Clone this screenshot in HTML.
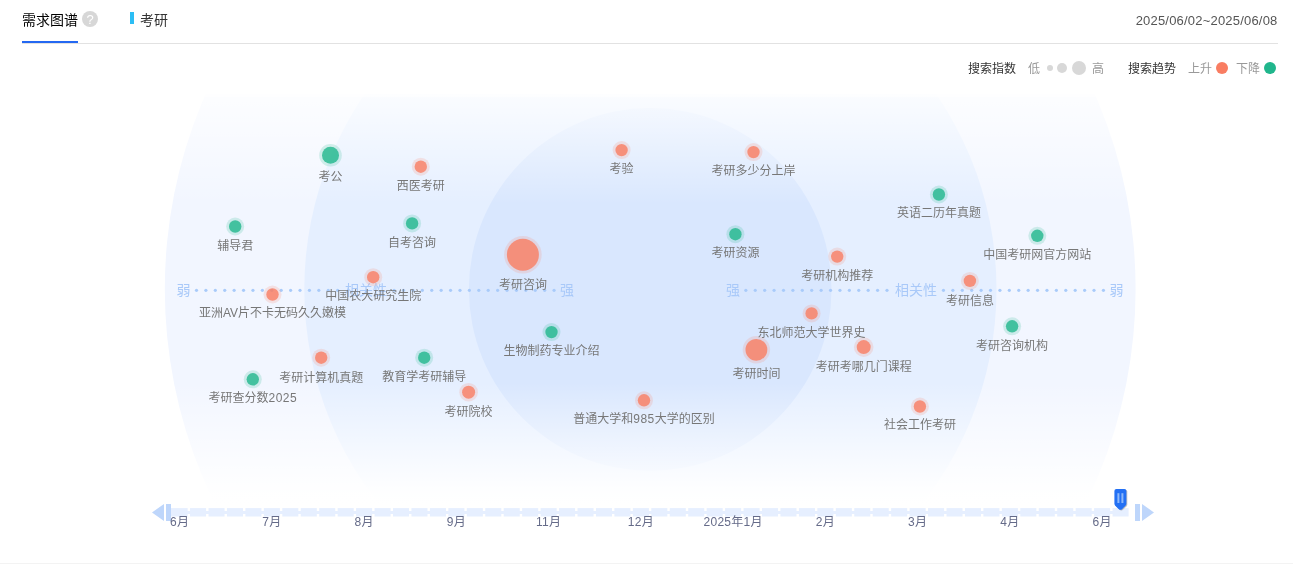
<!DOCTYPE html>
<html lang="zh-CN">
<head>
<meta charset="utf-8">
<title>需求图谱</title>
<style>
*{box-sizing:border-box;margin:0;padding:0}
html,body{width:1293px;height:564px;background:#fff;overflow:hidden}
body{position:relative;font-family:"Liberation Sans","Noto Sans CJK SC",sans-serif;color:#333}
.hd{position:absolute;left:22px;top:0;width:1256px;height:44px;border-bottom:1px solid #e2e2e2}
.tab{position:absolute;left:0;top:0;height:44px;line-height:41px;font-size:14px;color:#000;white-space:nowrap}
.tab i{position:absolute;left:0;top:41px;width:56px;height:2px;background:#2468f2}
.q{position:absolute;left:60px;top:11px;width:16px;height:16px;border-radius:50%;background:#d7d7d7;color:#fff;font-size:13px;line-height:17px;text-align:center}
.kw{position:absolute;left:108px;top:12px;height:12px;width:4px;background:#2cbef5}
.kwt{position:absolute;left:118px;top:0;line-height:41px;font-size:14px;color:#333;white-space:nowrap}
.date{position:absolute;right:0.5px;top:0;line-height:41px;font-size:13px;color:#555;white-space:nowrap;letter-spacing:0.195px}
.lg{position:absolute;top:59px;height:20px;line-height:20px;font-size:12px;white-space:nowrap}
.lg.d{color:#333}
.lg.g{color:#999}
.dot{position:absolute;border-radius:50%}
.ft{position:absolute;left:0;top:563px;width:1293px;height:1px;background:#f3f3f3}
svg{position:absolute;left:0;top:0}
svg text{font-family:"Liberation Sans","Noto Sans CJK SC",sans-serif}
.bl{font-size:12px;fill:#777;text-anchor:middle;dominant-baseline:central}
.ax{font-size:14px;fill:#a9c9f9;text-anchor:middle;dominant-baseline:central}
.tl{font-size:12px;letter-spacing:0.25px;fill:#656b89;text-anchor:middle;dominant-baseline:central}
</style>
</head>
<body>
<div class="hd">
  <div class="tab">需求图谱<i></i></div>
  <div class="q">?</div>
  <div class="kw"></div>
  <div class="kwt">考研</div>
  <div class="date">2025/06/02~2025/06/08</div>
</div>
<div class="lg d" style="left:968px">搜索指数</div>
<div class="lg g" style="left:1028px">低</div>
<div class="dot" style="left:1047px;top:65px;width:6px;height:6px;background:#d8d8d8"></div>
<div class="dot" style="left:1057px;top:63px;width:10px;height:10px;background:#d8d8d8"></div>
<div class="dot" style="left:1072px;top:61px;width:14px;height:14px;background:#d8d8d8"></div>
<div class="lg g" style="left:1092px">高</div>
<div class="lg d" style="left:1128px">搜索趋势</div>
<div class="lg g" style="left:1188px">上升</div>
<div class="dot" style="left:1216px;top:62px;width:12px;height:12px;background:#f97d62"></div>
<div class="lg g" style="left:1236px">下降</div>
<div class="dot" style="left:1264px;top:62px;width:12px;height:12px;background:#20b68c"></div>

<svg width="1293" height="564" viewBox="0 0 1293 564">
  <defs>
    <filter id="bl" x="-30%" y="-30%" width="160%" height="160%"><feGaussianBlur stdDeviation="0.7"/></filter>
    <clipPath id="cp"><rect x="0" y="94" width="1293" height="411"/></clipPath>
    <linearGradient id="fade" x1="0" y1="94" x2="0" y2="505" gradientUnits="userSpaceOnUse">
      <stop offset="0" stop-color="#fff" stop-opacity="0.93"/>
      <stop offset="0.0063" stop-color="#fff" stop-opacity="0.92"/>
      <stop offset="0.0078" stop-color="#fff" stop-opacity="0.8"/>
      <stop offset="0.2676" stop-color="#fff" stop-opacity="0"/>
      <stop offset="0.7022" stop-color="#fff" stop-opacity="0"/>
      <stop offset="0.9703" stop-color="#fff" stop-opacity="0.97"/>
      <stop offset="1" stop-color="#fff" stop-opacity="1"/>
    </linearGradient>
  </defs>
  <g clip-path="url(#cp)">
    <circle cx="650.2" cy="289" r="485.4" fill="#f2f6ff"/>
    <circle cx="650.4" cy="289.3" r="346.1" fill="#e5efff"/>
    <circle cx="650.2" cy="289.4" r="181.3" fill="#d9e7fe"/>
    <rect x="0" y="93" width="1293" height="413" fill="url(#fade)"/>
  </g>
  <g fill="#a9cbfa">
    <circle cx="196.5" cy="290.3" r="1.6"/><circle cx="205.91" cy="290.3" r="1.6"/><circle cx="215.32" cy="290.3" r="1.6"/><circle cx="224.73" cy="290.3" r="1.6"/><circle cx="234.14" cy="290.3" r="1.6"/><circle cx="243.55" cy="290.3" r="1.6"/><circle cx="252.96" cy="290.3" r="1.6"/><circle cx="262.37" cy="290.3" r="1.6"/><circle cx="271.78" cy="290.3" r="1.6"/><circle cx="281.19" cy="290.3" r="1.6"/><circle cx="290.6" cy="290.3" r="1.6"/><circle cx="300.01" cy="290.3" r="1.6"/><circle cx="309.42" cy="290.3" r="1.6"/><circle cx="318.83" cy="290.3" r="1.6"/><circle cx="328.24" cy="290.3" r="1.6"/><circle cx="337.65" cy="290.3" r="1.6"/><circle cx="394.11" cy="290.3" r="1.6"/><circle cx="403.52" cy="290.3" r="1.6"/><circle cx="412.93" cy="290.3" r="1.6"/><circle cx="422.34" cy="290.3" r="1.6"/><circle cx="431.75" cy="290.3" r="1.6"/><circle cx="441.16" cy="290.3" r="1.6"/><circle cx="450.57" cy="290.3" r="1.6"/><circle cx="459.98" cy="290.3" r="1.6"/><circle cx="469.39" cy="290.3" r="1.6"/><circle cx="478.8" cy="290.3" r="1.6"/><circle cx="488.21" cy="290.3" r="1.6"/><circle cx="497.62" cy="290.3" r="1.6"/><circle cx="507.03" cy="290.3" r="1.6"/><circle cx="516.44" cy="290.3" r="1.6"/><circle cx="525.85" cy="290.3" r="1.6"/><circle cx="535.26" cy="290.3" r="1.6"/><circle cx="544.67" cy="290.3" r="1.6"/><circle cx="554.08" cy="290.3" r="1.6"/><circle cx="745.85" cy="290.3" r="1.6"/><circle cx="755.26" cy="290.3" r="1.6"/><circle cx="764.67" cy="290.3" r="1.6"/><circle cx="774.08" cy="290.3" r="1.6"/><circle cx="783.49" cy="290.3" r="1.6"/><circle cx="792.9" cy="290.3" r="1.6"/><circle cx="802.31" cy="290.3" r="1.6"/><circle cx="811.72" cy="290.3" r="1.6"/><circle cx="821.13" cy="290.3" r="1.6"/><circle cx="830.54" cy="290.3" r="1.6"/><circle cx="839.95" cy="290.3" r="1.6"/><circle cx="849.36" cy="290.3" r="1.6"/><circle cx="858.77" cy="290.3" r="1.6"/><circle cx="868.18" cy="290.3" r="1.6"/><circle cx="877.59" cy="290.3" r="1.6"/><circle cx="887" cy="290.3" r="1.6"/><circle cx="943.46" cy="290.3" r="1.6"/><circle cx="952.87" cy="290.3" r="1.6"/><circle cx="962.28" cy="290.3" r="1.6"/><circle cx="971.69" cy="290.3" r="1.6"/><circle cx="981.1" cy="290.3" r="1.6"/><circle cx="990.51" cy="290.3" r="1.6"/><circle cx="999.92" cy="290.3" r="1.6"/><circle cx="1009.33" cy="290.3" r="1.6"/><circle cx="1018.74" cy="290.3" r="1.6"/><circle cx="1028.15" cy="290.3" r="1.6"/><circle cx="1037.56" cy="290.3" r="1.6"/><circle cx="1046.97" cy="290.3" r="1.6"/><circle cx="1056.38" cy="290.3" r="1.6"/><circle cx="1065.79" cy="290.3" r="1.6"/><circle cx="1075.2" cy="290.3" r="1.6"/><circle cx="1084.61" cy="290.3" r="1.6"/><circle cx="1094.02" cy="290.3" r="1.6"/><circle cx="1103.43" cy="290.3" r="1.6"/>
  </g>
  <text class="ax" x="183.5" y="290.3">弱</text>
  <text class="ax" x="366" y="290.3">相关性</text>
  <text class="ax" x="567" y="290.3">强</text>
  <text class="ax" x="733" y="290.3">强</text>
  <text class="ax" x="916" y="290.3">相关性</text>
  <text class="ax" x="1116.5" y="290.3">弱</text>
  <circle cx="330.5" cy="155.3" r="11.3" fill="#20b68c" fill-opacity="0.18"/>
  <circle cx="330.5" cy="155.3" r="8.5" fill="#20b68c" fill-opacity="0.8"/>
  <circle cx="420.8" cy="166.7" r="9" fill="#f97d62" fill-opacity="0.18"/>
  <circle cx="420.8" cy="166.7" r="6.2" fill="#f97d62" fill-opacity="0.8"/>
  <circle cx="235.2" cy="226.5" r="9" fill="#20b68c" fill-opacity="0.18"/>
  <circle cx="235.2" cy="226.5" r="6.2" fill="#20b68c" fill-opacity="0.8"/>
  <circle cx="412.1" cy="223.4" r="9" fill="#20b68c" fill-opacity="0.18"/>
  <circle cx="412.1" cy="223.4" r="6.2" fill="#20b68c" fill-opacity="0.8"/>
  <circle cx="522.9" cy="254.8" r="18.8" fill="#f97d62" fill-opacity="0.18"/>
  <circle cx="522.9" cy="254.8" r="16" fill="#f97d62" fill-opacity="0.8"/>
  <circle cx="373.2" cy="277.2" r="9" fill="#f97d62" fill-opacity="0.18"/>
  <circle cx="373.2" cy="277.2" r="6.2" fill="#f97d62" fill-opacity="0.8"/>
  <circle cx="272.5" cy="294.5" r="9" fill="#f97d62" fill-opacity="0.18"/>
  <circle cx="272.5" cy="294.5" r="6.2" fill="#f97d62" fill-opacity="0.8"/>
  <circle cx="321.2" cy="357.7" r="9" fill="#f97d62" fill-opacity="0.18"/>
  <circle cx="321.2" cy="357.7" r="6.2" fill="#f97d62" fill-opacity="0.8"/>
  <circle cx="252.8" cy="379.3" r="9" fill="#20b68c" fill-opacity="0.18"/>
  <circle cx="252.8" cy="379.3" r="6.2" fill="#20b68c" fill-opacity="0.8"/>
  <circle cx="424.2" cy="357.7" r="9" fill="#20b68c" fill-opacity="0.18"/>
  <circle cx="424.2" cy="357.7" r="6.2" fill="#20b68c" fill-opacity="0.8"/>
  <circle cx="468.6" cy="392.2" r="9.3" fill="#f97d62" fill-opacity="0.18"/>
  <circle cx="468.6" cy="392.2" r="6.5" fill="#f97d62" fill-opacity="0.8"/>
  <circle cx="551.5" cy="332.1" r="9" fill="#20b68c" fill-opacity="0.18"/>
  <circle cx="551.5" cy="332.1" r="6.2" fill="#20b68c" fill-opacity="0.8"/>
  <circle cx="621.6" cy="150.1" r="9" fill="#f97d62" fill-opacity="0.18"/>
  <circle cx="621.6" cy="150.1" r="6.2" fill="#f97d62" fill-opacity="0.8"/>
  <circle cx="753.5" cy="152.1" r="9" fill="#f97d62" fill-opacity="0.18"/>
  <circle cx="753.5" cy="152.1" r="6.2" fill="#f97d62" fill-opacity="0.8"/>
  <circle cx="735.4" cy="234.2" r="9" fill="#20b68c" fill-opacity="0.18"/>
  <circle cx="735.4" cy="234.2" r="6.2" fill="#20b68c" fill-opacity="0.8"/>
  <circle cx="837.2" cy="256.6" r="9" fill="#f97d62" fill-opacity="0.18"/>
  <circle cx="837.2" cy="256.6" r="6.2" fill="#f97d62" fill-opacity="0.8"/>
  <circle cx="938.9" cy="194.5" r="9" fill="#20b68c" fill-opacity="0.18"/>
  <circle cx="938.9" cy="194.5" r="6.2" fill="#20b68c" fill-opacity="0.8"/>
  <circle cx="1037.3" cy="235.8" r="9" fill="#20b68c" fill-opacity="0.18"/>
  <circle cx="1037.3" cy="235.8" r="6.2" fill="#20b68c" fill-opacity="0.8"/>
  <circle cx="969.9" cy="280.9" r="9" fill="#f97d62" fill-opacity="0.18"/>
  <circle cx="969.9" cy="280.9" r="6.2" fill="#f97d62" fill-opacity="0.8"/>
  <circle cx="1012.1" cy="326.3" r="9" fill="#20b68c" fill-opacity="0.18"/>
  <circle cx="1012.1" cy="326.3" r="6.2" fill="#20b68c" fill-opacity="0.8"/>
  <circle cx="811.6" cy="313.4" r="9" fill="#f97d62" fill-opacity="0.18"/>
  <circle cx="811.6" cy="313.4" r="6.2" fill="#f97d62" fill-opacity="0.8"/>
  <circle cx="756.4" cy="349.8" r="13.7" fill="#f97d62" fill-opacity="0.18"/>
  <circle cx="756.4" cy="349.8" r="10.9" fill="#f97d62" fill-opacity="0.8"/>
  <circle cx="863.7" cy="347.1" r="9.8" fill="#f97d62" fill-opacity="0.18"/>
  <circle cx="863.7" cy="347.1" r="7" fill="#f97d62" fill-opacity="0.8"/>
  <circle cx="919.9" cy="406.5" r="9" fill="#f97d62" fill-opacity="0.18"/>
  <circle cx="919.9" cy="406.5" r="6.2" fill="#f97d62" fill-opacity="0.8"/>
  <circle cx="644" cy="400.3" r="9" fill="#f97d62" fill-opacity="0.18"/>
  <circle cx="644" cy="400.3" r="6.2" fill="#f97d62" fill-opacity="0.8"/>
  <text class="bl" x="330.5" y="177.1">考公</text>
  <text class="bl" x="420.8" y="186.3">西医考研</text>
  <text class="bl" x="235.2" y="246.1">辅导君</text>
  <text class="bl" x="412.1" y="243.1">自考咨询</text>
  <text class="bl" x="522.9" y="284.5">考研咨询</text>
  <text class="bl" x="373.2" y="296.3">中国农大研究生院</text>
  <text class="bl" x="272.5" y="313.1">亚洲AV片不卡无码久久嫩模</text>
  <text class="bl" x="321.2" y="377.5">考研计算机真题</text>
  <text class="bl" x="252.8" y="398.2">考研查分数<tspan letter-spacing="0.5">2025</tspan></text>
  <text class="bl" x="424.2" y="377.1">教育学考研辅导</text>
  <text class="bl" x="468.6" y="412.3">考研院校</text>
  <text class="bl" x="551.5" y="350.9">生物制药专业介绍</text>
  <text class="bl" x="621.6" y="169.2">考验</text>
  <text class="bl" x="753.5" y="171.4">考研多少分上岸</text>
  <text class="bl" x="735.4" y="253.3">考研资源</text>
  <text class="bl" x="837.2" y="276.4">考研机构推荐</text>
  <text class="bl" x="938.9" y="213.1">英语二历年真题</text>
  <text class="bl" x="1037.3" y="255">中国考研网官方网站</text>
  <text class="bl" x="969.9" y="300.5">考研信息</text>
  <text class="bl" x="1012.1" y="346.4">考研咨询机构</text>
  <text class="bl" x="811.6" y="333">东北师范大学世界史</text>
  <text class="bl" x="756.4" y="373.8">考研时间</text>
  <text class="bl" x="863.7" y="367">考研考哪几门课程</text>
  <text class="bl" x="919.9" y="425.1">社会工作考研</text>
  <text class="bl" x="644" y="419.2">普通大学和<tspan letter-spacing="0.5">985</tspan>大学的区别</text>
  <rect x="171" y="508.1" width="957.6" height="8.4" fill="#e6efff"/>
  <g fill="#fff"><rect x="187.65" y="507.9" width="2.4" height="3.1"/><rect x="187.65" y="514" width="2.4" height="3"/><rect x="206.1" y="507.9" width="2.4" height="3.1"/><rect x="206.1" y="514" width="2.4" height="3"/><rect x="224.55" y="507.9" width="2.4" height="3.1"/><rect x="224.55" y="514" width="2.4" height="3"/><rect x="243" y="507.9" width="2.4" height="3.1"/><rect x="243" y="514" width="2.4" height="3"/><rect x="261.45" y="507.9" width="2.4" height="3.1"/><rect x="261.45" y="514" width="2.4" height="3"/><rect x="279.9" y="507.9" width="2.4" height="3.1"/><rect x="279.9" y="514" width="2.4" height="3"/><rect x="298.35" y="507.9" width="2.4" height="3.1"/><rect x="298.35" y="514" width="2.4" height="3"/><rect x="316.8" y="507.9" width="2.4" height="3.1"/><rect x="316.8" y="514" width="2.4" height="3"/><rect x="335.25" y="507.9" width="2.4" height="3.1"/><rect x="335.25" y="514" width="2.4" height="3"/><rect x="353.7" y="507.9" width="2.4" height="3.1"/><rect x="353.7" y="514" width="2.4" height="3"/><rect x="372.15" y="507.9" width="2.4" height="3.1"/><rect x="372.15" y="514" width="2.4" height="3"/><rect x="390.6" y="507.9" width="2.4" height="3.1"/><rect x="390.6" y="514" width="2.4" height="3"/><rect x="409.05" y="507.9" width="2.4" height="3.1"/><rect x="409.05" y="514" width="2.4" height="3"/><rect x="427.5" y="507.9" width="2.4" height="3.1"/><rect x="427.5" y="514" width="2.4" height="3"/><rect x="445.95" y="507.9" width="2.4" height="3.1"/><rect x="445.95" y="514" width="2.4" height="3"/><rect x="464.4" y="507.9" width="2.4" height="3.1"/><rect x="464.4" y="514" width="2.4" height="3"/><rect x="482.85" y="507.9" width="2.4" height="3.1"/><rect x="482.85" y="514" width="2.4" height="3"/><rect x="501.3" y="507.9" width="2.4" height="3.1"/><rect x="501.3" y="514" width="2.4" height="3"/><rect x="519.75" y="507.9" width="2.4" height="3.1"/><rect x="519.75" y="514" width="2.4" height="3"/><rect x="538.2" y="507.9" width="2.4" height="3.1"/><rect x="538.2" y="514" width="2.4" height="3"/><rect x="556.65" y="507.9" width="2.4" height="3.1"/><rect x="556.65" y="514" width="2.4" height="3"/><rect x="575.1" y="507.9" width="2.4" height="3.1"/><rect x="575.1" y="514" width="2.4" height="3"/><rect x="593.55" y="507.9" width="2.4" height="3.1"/><rect x="593.55" y="514" width="2.4" height="3"/><rect x="612" y="507.9" width="2.4" height="3.1"/><rect x="612" y="514" width="2.4" height="3"/><rect x="630.45" y="507.9" width="2.4" height="3.1"/><rect x="630.45" y="514" width="2.4" height="3"/><rect x="648.9" y="507.9" width="2.4" height="3.1"/><rect x="648.9" y="514" width="2.4" height="3"/><rect x="667.35" y="507.9" width="2.4" height="3.1"/><rect x="667.35" y="514" width="2.4" height="3"/><rect x="685.8" y="507.9" width="2.4" height="3.1"/><rect x="685.8" y="514" width="2.4" height="3"/><rect x="704.25" y="507.9" width="2.4" height="3.1"/><rect x="704.25" y="514" width="2.4" height="3"/><rect x="722.7" y="507.9" width="2.4" height="3.1"/><rect x="722.7" y="514" width="2.4" height="3"/><rect x="741.15" y="507.9" width="2.4" height="3.1"/><rect x="741.15" y="514" width="2.4" height="3"/><rect x="759.6" y="507.9" width="2.4" height="3.1"/><rect x="759.6" y="514" width="2.4" height="3"/><rect x="778.05" y="507.9" width="2.4" height="3.1"/><rect x="778.05" y="514" width="2.4" height="3"/><rect x="796.5" y="507.9" width="2.4" height="3.1"/><rect x="796.5" y="514" width="2.4" height="3"/><rect x="814.95" y="507.9" width="2.4" height="3.1"/><rect x="814.95" y="514" width="2.4" height="3"/><rect x="833.4" y="507.9" width="2.4" height="3.1"/><rect x="833.4" y="514" width="2.4" height="3"/><rect x="851.85" y="507.9" width="2.4" height="3.1"/><rect x="851.85" y="514" width="2.4" height="3"/><rect x="870.3" y="507.9" width="2.4" height="3.1"/><rect x="870.3" y="514" width="2.4" height="3"/><rect x="888.75" y="507.9" width="2.4" height="3.1"/><rect x="888.75" y="514" width="2.4" height="3"/><rect x="907.2" y="507.9" width="2.4" height="3.1"/><rect x="907.2" y="514" width="2.4" height="3"/><rect x="925.65" y="507.9" width="2.4" height="3.1"/><rect x="925.65" y="514" width="2.4" height="3"/><rect x="944.1" y="507.9" width="2.4" height="3.1"/><rect x="944.1" y="514" width="2.4" height="3"/><rect x="962.55" y="507.9" width="2.4" height="3.1"/><rect x="962.55" y="514" width="2.4" height="3"/><rect x="981" y="507.9" width="2.4" height="3.1"/><rect x="981" y="514" width="2.4" height="3"/><rect x="999.45" y="507.9" width="2.4" height="3.1"/><rect x="999.45" y="514" width="2.4" height="3"/><rect x="1017.9" y="507.9" width="2.4" height="3.1"/><rect x="1017.9" y="514" width="2.4" height="3"/><rect x="1036.35" y="507.9" width="2.4" height="3.1"/><rect x="1036.35" y="514" width="2.4" height="3"/><rect x="1054.8" y="507.9" width="2.4" height="3.1"/><rect x="1054.8" y="514" width="2.4" height="3"/><rect x="1073.25" y="507.9" width="2.4" height="3.1"/><rect x="1073.25" y="514" width="2.4" height="3"/><rect x="1091.7" y="507.9" width="2.4" height="3.1"/><rect x="1091.7" y="514" width="2.4" height="3"/><rect x="1110.15" y="507.9" width="2.4" height="3.1"/><rect x="1110.15" y="514" width="2.4" height="3"/></g>
  <path d="M152 512.4L164 504V521Z" fill="#bed6fb"/>
  <rect x="166" y="504" width="5" height="17" fill="#bed6fb"/>
  <rect x="1135" y="504" width="5" height="17" fill="#bed6fb"/>
  <path d="M1154 512.4L1142 504V521Z" fill="#bed6fb"/>
  <text class="tl" x="179.62" y="522.3">6月</text>
  <text class="tl" x="271.88" y="522.3">7月</text>
  <text class="tl" x="364.12" y="522.3">8月</text>
  <text class="tl" x="456.38" y="522.3">9月</text>
  <text class="tl" x="548.62" y="522.3">11月</text>
  <text class="tl" x="640.88" y="522.3">12月</text>
  <text class="tl" x="733.12" y="522.3">2025年1月</text>
  <text class="tl" x="825.38" y="522.3">2月</text>
  <text class="tl" x="917.62" y="522.3">3月</text>
  <text class="tl" x="1009.88" y="522.3">4月</text>
  <text class="tl" x="1102.12" y="522.3">6月</text>
  <path d="M1116.4 489h8a2 2 0 0 1 2 2v12.6q0 1.2 -0.9 2.1l-3.3 3.2q-1.8 1.7 -3.6 0l-3.3-3.2q-0.9-0.9 -0.9-2.1V491a2 2 0 0 1 2-2z" fill="#333" fill-opacity="0.3" transform="translate(0.9 0.7)" filter="url(#bl)"/>
  <path d="M1116.4 489h8a2 2 0 0 1 2 2v12.6q0 1.2 -0.9 2.1l-3.3 3.2q-1.8 1.7 -3.6 0l-3.3-3.2q-0.9-0.9 -0.9-2.1V491a2 2 0 0 1 2-2z" fill="#2370f4"/>
  <rect x="1117.4" y="493.2" width="2" height="9.8" fill="#8db8fb"/><rect x="1121.4" y="493.2" width="2" height="9.8" fill="#8db8fb"/>
</svg>
<div class="ft"></div>
</body>
</html>
